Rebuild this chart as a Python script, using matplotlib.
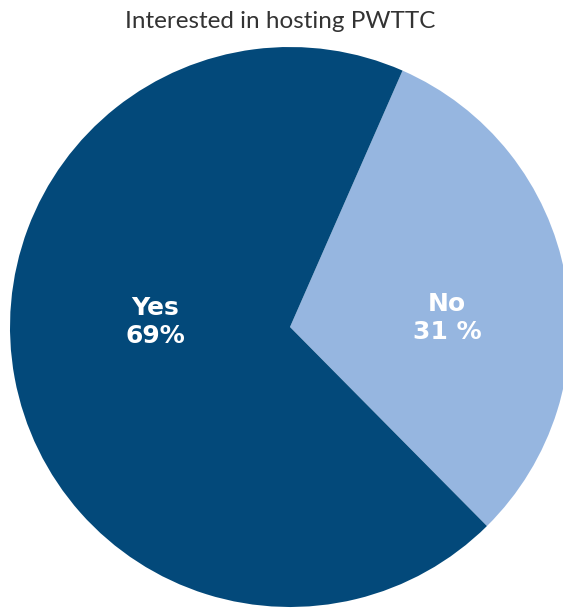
import matplotlib
matplotlib.use("Agg")
import matplotlib.pyplot as plt

title = "Interested in hosting PWTTC"
categories = ["No", "Yes"]
values = [31, 69]
label_texts = ["No\n31 %", "Yes\n69%"]
colors = ["#96B6E0", "#03497A"]

W, H = 563, 608
cx, cy, R = 290, 327, 280
fig = plt.figure(figsize=(W / 100, H / 100), dpi=100)
ax = fig.add_axes([0, 0, 1, 1])
wedges, _ = ax.pie(values, colors=colors, startangle=66.3, counterclock=False,
                   radius=1.0, wedgeprops=dict(linewidth=0))
ax.set_aspect('auto')
ax.set_xlim(-cx / R, (W - cx) / R)
ax.set_ylim(-(H - cy) / R, cy / R)
ax.axis('off')

label_pos = [((447 - cx) / R, (cy - 318) / R), ((155 - cx) / R, (cy - 322) / R)]
for (x, y), t in zip(label_pos, label_texts):
    ax.text(x, y, t, ha='center', va='center', color='white', fontsize=18,
            fontweight='bold', family='DejaVu Sans', linespacing=1.2)

fig.text(280 / W, 1 - 22 / H, title, ha='center', va='center', fontsize=17.5,
         family='Lato', color='#333333')
fig.savefig("out.png", dpi=100)
